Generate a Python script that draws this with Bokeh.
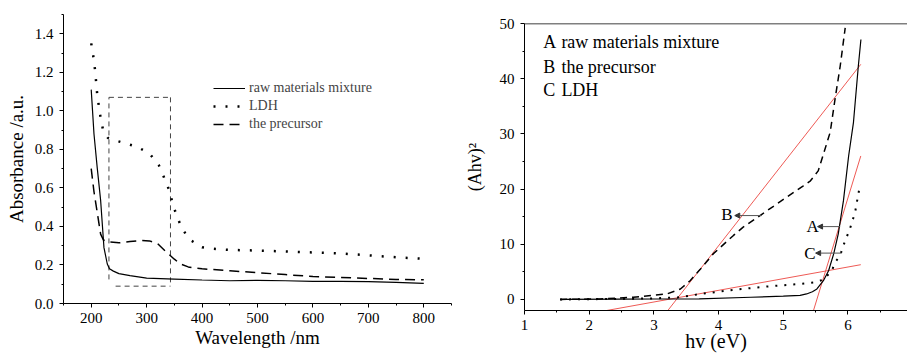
from bokeh.plotting import figure
from bokeh.layouts import row
from bokeh.models import (FixedTicker, Range1d, Legend, LegendItem, Arrow,
                          NormalHead, Span, ColumnDataSource)
from bokeh.core.properties import value
from bokeh.embed import file_html
from bokeh.resources import INLINE

FONT = "Liberation Serif"

# ---------------- left panel data ----------------
raw_wl = [200, 205, 211, 217, 223, 229, 233, 240, 250, 270, 300, 350, 400, 450, 500, 550, 600, 650, 700, 750, 800]
raw_abs = [1.11, 0.88, 0.70, 0.535, 0.29, 0.205, 0.18, 0.168, 0.155, 0.145, 0.132, 0.127, 0.122, 0.118, 0.12, 0.118, 0.115, 0.115, 0.114, 0.11, 0.104]

ldh_wl = [200, 203, 207, 211, 216, 222, 230, 240, 262, 282, 305, 322, 331, 342, 346, 354, 364, 378, 400, 421, 450, 500, 550, 600, 650, 700, 750, 800]
ldh_abs = [1.35, 1.30, 1.21, 1.08, 0.98, 0.89, 0.86, 0.849, 0.831, 0.814, 0.779, 0.718, 0.657, 0.579, 0.527, 0.457, 0.388, 0.331, 0.292, 0.284, 0.278, 0.275, 0.27, 0.265, 0.26, 0.25, 0.24, 0.232]

pre_wl = [200, 205, 211, 217, 222, 230, 250, 270, 290, 305, 320, 336, 350, 361, 375, 385, 400, 450, 500, 550, 600, 650, 700, 750, 800]
pre_abs = [0.70, 0.58, 0.47, 0.36, 0.33, 0.32, 0.315, 0.322, 0.327, 0.325, 0.31, 0.266, 0.23, 0.205, 0.19, 0.185, 0.18, 0.17, 0.16, 0.15, 0.14, 0.135, 0.13, 0.125, 0.123]

left_names = ["raw materials mixture", "LDH", "the precursor"]
left_xticks = [200, 300, 400, 500, 600, 700, 800]
left_xminor = [150, 250, 350, 450, 550, 650, 750, 850]
left_yticks = [0.0, 0.2, 0.4, 0.6, 0.8, 1.0, 1.2, 1.4]
left_yminor = [0.1, 0.3, 0.5, 0.7, 0.9, 1.1, 1.3, 1.5]
left_ylabels = ["0.0", "0.2", "0.4", "0.6", "0.8", "1.0", "1.2", "1.4"]

# dashed selection box (wavelength, absorbance)
box_xs = [[232, 232], [232, 343], [343, 343], [244, 343]]
box_ys = [[0.125, 1.07], [1.07, 1.07], [1.07, 0.09], [0.09, 0.09]]

# ---------------- right panel data ----------------
A_x = [1.55, 2.5, 3.0, 3.7, 4.5, 5.0, 5.26, 5.36, 5.45, 5.52, 5.62, 5.70, 5.78, 5.85, 5.93, 6.01, 6.085, 6.16, 6.20]
A_y = [0.0, 0.05, 0.08, 0.1, 0.4, 0.6, 0.75, 1.0, 1.4, 1.9, 3.4, 5.2, 8.3, 11.9, 17.9, 26.0, 32.1, 42.3, 47.1]

B_x = [1.55, 2.17, 2.68, 3.2, 3.41, 3.56, 3.72, 3.92, 4.23, 4.38, 4.64, 4.90, 5.16, 5.31, 5.42, 5.54, 5.62, 5.725, 5.80, 5.88, 5.957]
B_y = [0.0, 0.1, 0.4, 1.0, 1.9, 3.4, 5.5, 8.3, 11.6, 13.1, 15.2, 17.3, 19.4, 20.6, 21.5, 23.3, 26.3, 30.3, 36.3, 42.3, 49.2]

C_x = [1.55, 2.5, 3.0, 3.41, 3.72, 4.23, 4.75, 5.26, 5.49, 5.62, 5.75, 5.80, 5.88, 5.93, 5.98, 6.03, 6.11, 6.16, 6.19]
C_y = [0.0, 0.1, 0.2, 0.4, 1.0, 1.75, 2.35, 2.8, 3.1, 3.6, 5.2, 6.7, 8.0, 9.8, 11.3, 12.8, 15.8, 19.1, 20.9]

tan_xs = [[3.215, 6.198], [2.27, 6.198], [5.467, 6.198]]
tan_ys = [[-2.0, 42.6], [-2.0, 6.3], [-2.0, 26.0]]

right_keys = ["A", "B", "C"]
right_names = ["raw materials mixture", "the precursor", "LDH"]
right_key_x = [1.29, 1.29, 1.29]
right_name_x = [1.57, 1.57, 1.57]
right_legend_y = [46.7, 42.1, 38.0]

mark_text = ["B", "A", "C"]
mark_x = [4.13, 5.455, 5.41]
mark_y = [15.4, 13.2, 8.3]
arrow_x0 = [4.67, 5.88, 5.90]
arrow_x1 = [4.25, 5.53, 5.50]
arrow_y = [15.2, 13.2, 8.4]

right_xticks = [1, 2, 3, 4, 5, 6]
right_xminor = [1.5, 2.5, 3.5, 4.5, 5.5, 6.5]
right_yticks = [0, 10, 20, 30, 40, 50]
right_yminor = [5, 15, 25, 35, 45]


def style_axis(ax, standoff):
    ax.axis_line_color = "black"
    ax.axis_line_width = 1
    ax.major_tick_line_color = "black"
    ax.minor_tick_line_color = "black"
    ax.major_tick_out = 4
    ax.major_tick_in = 0
    ax.minor_tick_out = 2
    ax.minor_tick_in = 0
    ax.major_label_text_font = FONT
    ax.major_label_text_font_style = "normal"
    ax.major_label_text_font_size = "15px"
    ax.major_label_text_color = "black"
    ax.axis_label_text_font = FONT
    ax.axis_label_text_font_style = "normal"
    ax.axis_label_text_color = "black"
    ax.major_label_standoff = standoff


# ---------------- left figure ----------------
p1 = figure(width=460, height=354, output_backend="svg", toolbar_location=None,
            x_range=Range1d(150, 850), y_range=Range1d(0, 1.5),
            min_border_left=63, min_border_right=9, min_border_top=14,
            min_border_bottom=51, frame_align=False)
p1.outline_line_color = None
p1.grid.visible = False
p1.xaxis.ticker = FixedTicker(ticks=left_xticks, minor_ticks=left_xminor)
p1.yaxis.ticker = FixedTicker(ticks=left_yticks, minor_ticks=left_yminor)
p1.yaxis.major_label_overrides = {t: l for t, l in zip(left_yticks, left_ylabels)}
style_axis(p1.xaxis[0], 5)
style_axis(p1.yaxis[0], 6)
p1.xaxis.axis_label = "Wavelength /nm"
p1.yaxis.axis_label = "Absorbance /a.u."
p1.xaxis.axis_label_text_font_size = "19px"
p1.yaxis.axis_label_text_font_size = "19px"
p1.xaxis.axis_label_standoff = 1
p1.yaxis.axis_label_standoff = 5

p1.multi_line(xs=box_xs, ys=box_ys, line_color="#444444", line_width=1, line_dash="5 4")
r_raw = p1.line(raw_wl, raw_abs, line_color="black", line_width=1.2)
r_ldh = p1.line(ldh_wl, ldh_abs, line_color="black", line_width=2.5, line_dash="2 10")
r_pre = p1.line(pre_wl, pre_abs, line_color="black", line_width=1.5, line_dash="10 6")

leg = Legend(items=[LegendItem(label=left_names[0], renderers=[r_raw]),
                    LegendItem(label=left_names[1], renderers=[r_ldh]),
                    LegendItem(label=left_names[2], renderers=[r_pre])],
             location=(150, 170))
leg.label_text_font = FONT
leg.label_text_font_size = "14px"
leg.label_height = 18
leg.glyph_height = 18
leg.glyph_width = 32
leg.label_standoff = 4
leg.spacing = 0
leg.padding = 0
leg.margin = 0
leg.border_line_color = None
leg.background_fill_alpha = 0
p1.add_layout(leg, "center")

# ---------------- right figure ----------------
p2 = figure(width=447, height=354, output_backend="svg", toolbar_location=None,
            x_range=Range1d(1, 6.92), y_range=Range1d(-2, 50),
            min_border_left=64, min_border_right=0, min_border_top=23,
            min_border_bottom=44, frame_align=False)
p2.outline_line_color = None
p2.grid.visible = False
p2.xaxis.ticker = FixedTicker(ticks=right_xticks, minor_ticks=right_xminor)
p2.yaxis.ticker = FixedTicker(ticks=right_yticks, minor_ticks=right_yminor)
style_axis(p2.xaxis[0], 5)
style_axis(p2.yaxis[0], 6)
p2.xaxis.axis_label = "hv (eV)"
p2.yaxis.axis_label = "(Ahv)\u00b2"
p2.xaxis.axis_label_text_font_size = "20px"
p2.yaxis.axis_label_text_font_size = "18px"
p2.xaxis.axis_label_standoff = -3
p2.yaxis.axis_label_standoff = 12
p2.add_layout(Span(location=50, dimension="width", line_color="black", line_width=1.5))

p2.multi_line(xs=tan_xs, ys=tan_ys, line_color="#ee5a55", line_width=1)
p2.line(A_x, A_y, line_color="black", line_width=1.2)
p2.line(B_x, B_y, line_color="black", line_width=1.5, line_dash="7 5")
p2.line(C_x, C_y, line_color="black", line_width=2, line_dash="2 7")

p2.text(x=right_key_x, y=right_legend_y, text=right_keys,
        text_font=value(FONT), text_font_size="18px",
        text_align="left", text_baseline="middle", text_color="black")
p2.text(x=right_name_x, y=right_legend_y, text=right_names,
        text_font=value(FONT), text_font_size="18px",
        text_align="left", text_baseline="middle", text_color="black")
p2.text(x=mark_x, y=mark_y, text=mark_text,
        text_font=value(FONT), text_font_size="17px",
        text_align="center", text_baseline="middle", text_color="black")

arr_src = ColumnDataSource(dict(x0=arrow_x0, x1=arrow_x1, y=arrow_y))
p2.add_layout(Arrow(end=NormalHead(size=5, fill_color="#333333", line_color="#333333"),
                    x_start="x0", y_start="y", x_end="x1", y_end="y",
                    source=arr_src, line_color="#555555", line_width=1))

layout = row(p1, p2)
open("out.html", "w").write(file_html(layout, INLINE))
